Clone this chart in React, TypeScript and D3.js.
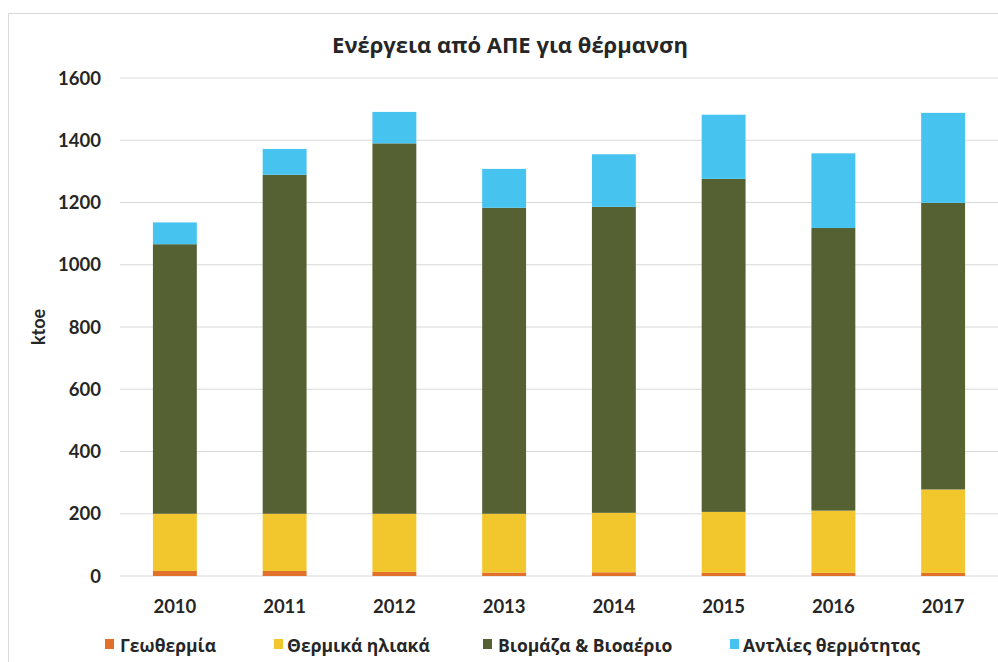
import React from "react";
import * as d3 from "d3";

const years = ["2010", "2011", "2012", "2013", "2014", "2015", "2016", "2017"];
const geothermal = [16, 16, 13, 11, 12, 10, 10, 10];
const solarThermal = [184, 184, 187, 189, 191, 196, 200, 268];
const biomass = [866, 1089, 1190, 983, 983, 1070, 908, 921];
const heatPumps = [70, 83, 101, 125, 169, 206, 240, 289];
const seriesNames = ["Γεωθερμία", "Θερμικά ηλιακά", "Βιομάζα & Βιοαέριο", "Αντλίες θερμότητας"];
const seriesColors = ["#E0702A", "#F2C72D", "#556033", "#46C3EE"];
const yTicks = [0, 200, 400, 600, 800, 1000, 1200, 1400, 1600];
const title = "Ενέργεια από ΑΠΕ για θέρμανση";
const yLabel = "ktoe";

export default function App() {
  const W = 998, H = 662;
  const font = "Lato, 'Open Sans', sans-serif";
  const font2 = "'Open Sans', sans-serif";
  const x = d3.scaleBand().domain(years).range([120, 998]).paddingInner(0.6).paddingOuter(0.3);
  const y = d3.scaleLinear().domain([0, 1600]).range([576, 78]);
  const table = years.map((yr, i) => ({ year: yr, s0: geothermal[i], s1: solarThermal[i], s2: biomass[i], s3: heatPumps[i] }));
  const stack = d3.stack<any>().keys(["s0", "s1", "s2", "s3"])(table);
  const legendX = [105, 274, 483, 730];
  const legendTextX = [120, 287, 498, 743];

  return (
    <svg width={W} height={H} style={{ position: "absolute", left: 0, top: 0, background: "#fff" }}>
      <rect x={8.5} y={13.5} width={1000} height={700} fill="#fff" stroke="#d9d9d9" strokeWidth={1} />
      <text x={510} y={53} textAnchor="middle" fontFamily={font2} fontWeight={700} fontSize={22} fill="#262626">{title}</text>
      {yTicks.map((t) => (
        <g key={t}>
          <line x1={120} x2={998} y1={y(t)} y2={y(t)} stroke="#d9d9d9" strokeWidth={1.2} />
          <text x={101} y={y(t) + 6.5} textAnchor="end" fontFamily={font} fontWeight={700} fontSize={18.5} fill="#262626">{t}</text>
        </g>
      ))}
      <text transform={`translate(45,${y(800)}) rotate(-90)`} textAnchor="middle" fontFamily={font} fontWeight={700} fontSize={18} fill="#262626">{yLabel}</text>
      {stack.map((layer, li) => (
        <g key={li} fill={seriesColors[li]}>
          {layer.map((d: any, i: number) => (
            <rect key={i} x={x(years[i])} width={x.bandwidth()} y={y(d[1])} height={y(d[0]) - y(d[1])} />
          ))}
        </g>
      ))}
      {years.map((yr) => (
        <text key={yr} x={(x(yr) as number) + x.bandwidth() / 2} y={613} textAnchor="middle" fontFamily={font} fontWeight={700} fontSize={18.5} fill="#262626">{yr}</text>
      ))}
      {seriesNames.map((n, i) => (
        <g key={n}>
          <rect x={legendX[i]} y={639} width={9} height={10} fill={seriesColors[i]} />
          <text x={legendTextX[i]} y={652} fontFamily={font2} fontWeight={700} fontSize={17.5} fill="#262626">{n}</text>
        </g>
      ))}
    </svg>
  );
}
